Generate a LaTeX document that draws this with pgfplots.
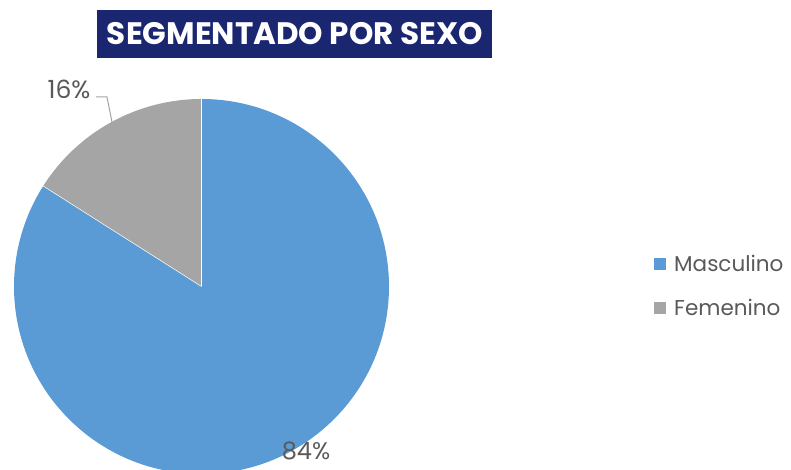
\documentclass[border=0pt]{standalone}
\usepackage{pgfplots}
\usepackage{pgfplotstable}
\usepackage{fontspec}
\setmainfont{Poppins}
\pgfplotsset{compat=1.18}
\definecolor{cblue}{HTML}{5B9BD5}
\definecolor{cgrey}{HTML}{A5A5A5}
\definecolor{navy}{HTML}{1A2670}
\definecolor{txt}{HTML}{595959}
\pgfplotstableread{
sexo pct
Masculino 84
Femenino 16
}\datatable
\begin{document}
\begin{tikzpicture}
\pgfplotstablegetelem{0}{pct}\of\datatable \let\vm\pgfplotsretval
\pgfplotstablegetelem{1}{pct}\of\datatable \let\vf\pgfplotsretval
\clip (0,0) rectangle (791pt,470pt);
\begin{axis}[hide axis, scale only axis, width=791pt, height=470pt,
  xmin=0, xmax=791, ymin=0, ymax=470, clip=false]
\fill[cblue] (axis cs:201.5,183.5) -- ++(0pt,187.5pt)
  arc[start angle=90, delta angle={-\vm*3.6}, radius=187.5pt] -- cycle;
\fill[cgrey] (axis cs:201.5,183.5) -- ++(0pt,187.5pt)
  arc[start angle=90, delta angle={\vf*3.6}, radius=187.5pt] -- cycle;
\draw[white, line width=0.5pt] (axis cs:201.5,183.5) -- ++(0pt,187.5pt);
\draw[white, line width=0.5pt] (axis cs:201.5,183.5) -- ++({90+\vf*3.6}:187.5pt);
\addplot[cgrey, line width=1pt] coordinates {(96,373) (107,373) (112,348)};
\node[anchor=base, text=txt, font=\fontsize{25}{30}\selectfont, inner sep=0] at (axis cs:69,371) {16\%};
\node[anchor=base, text=txt, font=\fontsize{24}{30}\selectfont, inner sep=0] at (axis cs:306,10) {84\%};
\node[fill=navy, minimum width=395pt, minimum height=48pt, inner sep=0] at (axis cs:294.5,436) {};
\node[text=white, inner sep=0, anchor=center] at (axis cs:295,436) {\resizebox{376pt}{!}{\bfseries SEGMENTADO POR SEXO}};
\node[fill=cblue, minimum size=12pt, inner sep=0] at (axis cs:660,206) {};
\node[fill=cgrey, minimum size=12pt, inner sep=0] at (axis cs:660,161.5) {};
\node[anchor=base west, text=txt, font=\fontsize{21.5}{26}\selectfont, inner sep=0] at (axis cs:674,198) {Masculino};
\node[anchor=base west, text=txt, font=\fontsize{21.5}{26}\selectfont, inner sep=0] at (axis cs:674,154) {Femenino};
\end{axis}
\end{tikzpicture}
\end{document}
